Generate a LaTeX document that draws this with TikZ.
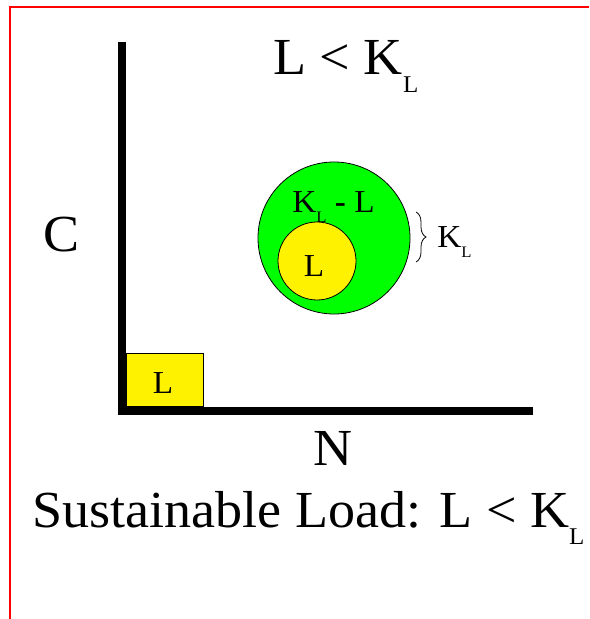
\documentclass[tikz,border=0pt]{standalone}
\usepackage{fontspec}
\setmainfont{Liberation Serif}[FakeStretch=1.04]
\usetikzlibrary{decorations.pathreplacing}

% subscript L for the large and the small labels
\newcommand{\sbL}{\raisebox{-0.33em}{\fontsize{12}{12}\selectfont L}}
\newcommand{\sbl}{\raisebox{-0.3em}{\fontsize{8}{8}\selectfont L}}

\begin{document}
\begin{tikzpicture}[x=0.5pt,y=-0.5pt,
  big/.style={font=\fontsize{26}{30}\selectfont,inner sep=0pt},
  small/.style={font=\fontsize{16}{18}\selectfont,inner sep=0pt},
  axis/.style={line width=4pt},
  frame/.style={red,line width=1pt},
]
\useasboundingbox (0,0) rectangle (589,619);
\draw[frame] (589,7) -- (10,7) -- (10,619);

% axes
\coordinate (O) at (122,411);
\coordinate (ytop) at (122,42);
\coordinate (xend) at (533,411);
\draw[axis] (ytop) -- (O) ++(-4,0) -- (xend);

% load box in the corner
\node[draw,fill=yellow,minimum width=38.5pt,minimum height=26.5pt,anchor=south west,inner sep=0pt] (box) at (126,407) {};
\node[small,anchor=base] (boxL) at (163,393) {L};

% capacity circles
\node[circle,draw,fill=green,minimum size=76pt,inner sep=0pt] (cap) at (334,238) {};
\node[circle,draw,fill=yellow,minimum size=39pt,inner sep=0pt] (load) at (317,261) {};
\node[small,anchor=base west] (diff) at (292,213) {K\sbl\ \textbf{-} L};
\node[small,anchor=base] (loadL) at (314,277) {L};

% brace
\coordinate (bt) at (416,212);
\coordinate (bb) at (416,262);
\draw[decorate,decoration={brace,amplitude=5pt}] (bt) -- (bb);
\node[small,anchor=base west] (kl) at (437,248) {K\sbl};

% labels
\node[big,anchor=base west] (top) at (273,75) {L < K\sbL};
\node[big,anchor=base west] (C) at (43,252) {C};
\node[big,anchor=base west] (N) at (313,465) {N};
\node[big,anchor=base west] (sus) at (32,527) {Sustainable Load: L < K\sbL};
\end{tikzpicture}
\end{document}
